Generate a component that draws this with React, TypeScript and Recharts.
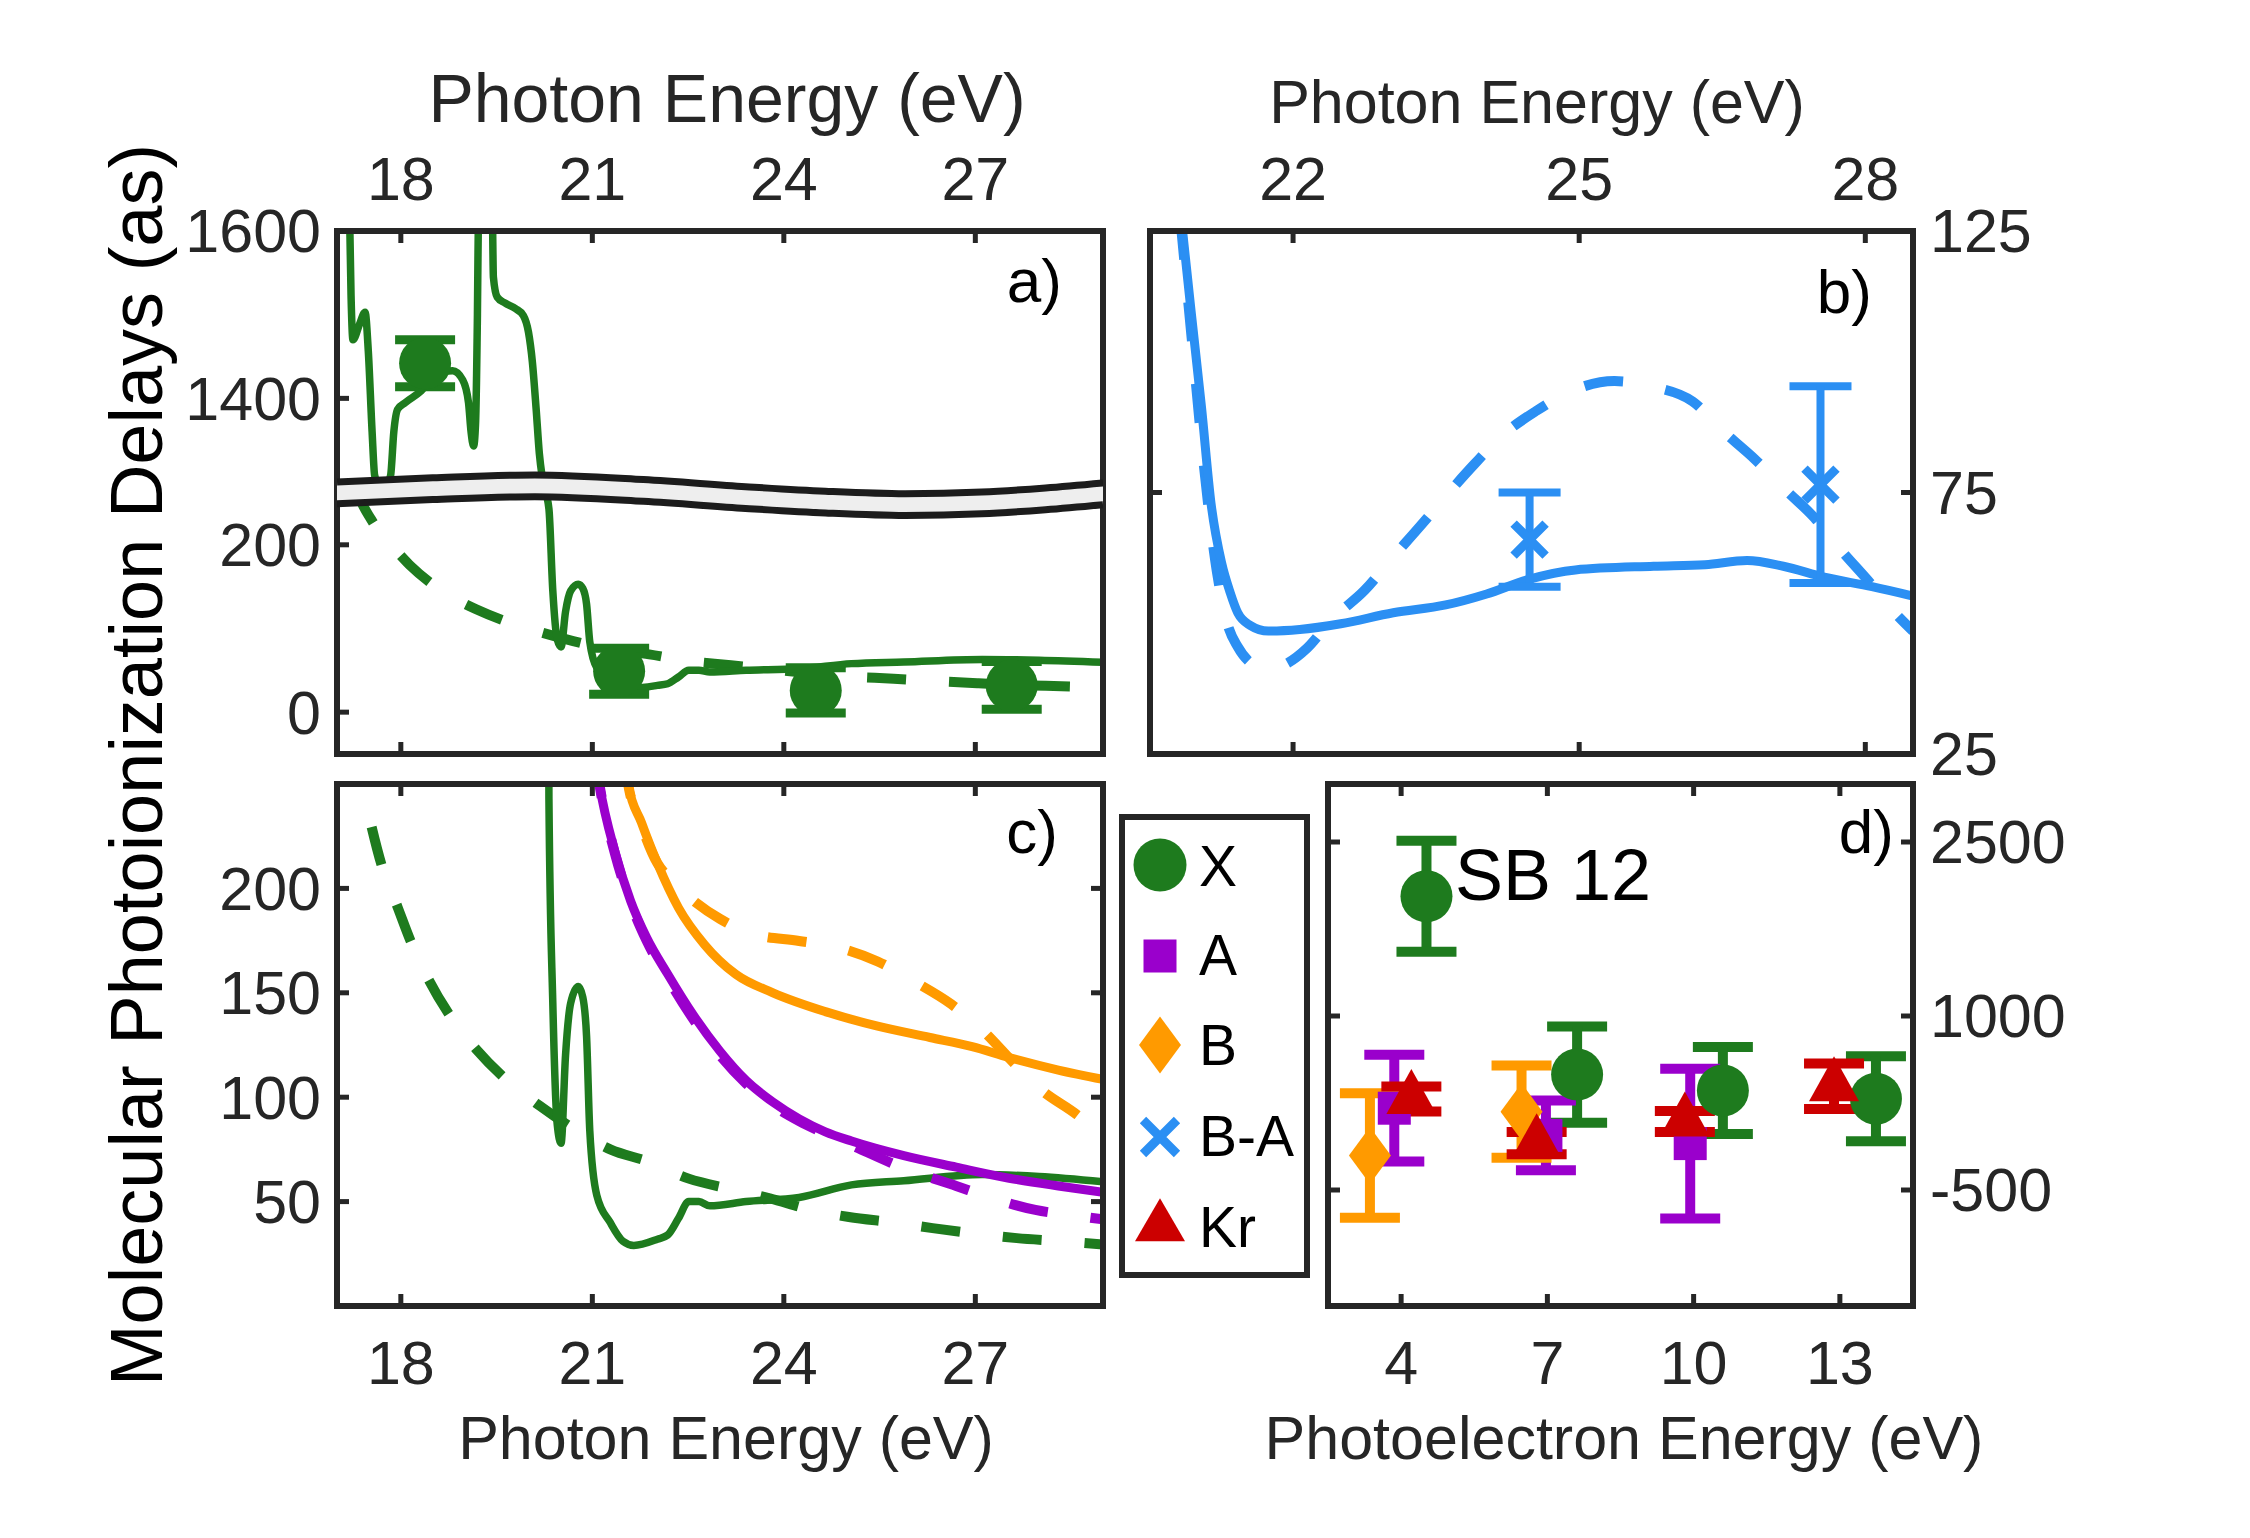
import React from "react";
import { Area, ComposedChart, ErrorBar, Line, Scatter, XAxis, YAxis } from "recharts";

const W = 2250;
const H = 1538;
const FONT = '"Liberation Sans", Arial, Helvetica, sans-serif';
const INK = "#262626";
const GREEN = "#1e7b1e";
const BLUE = "#2b8ff3";
const PURPLE = "#9a00cc";
const ORANGE = "#ff9a00";
const RED = "#cc0000";
const TICK_FS = 61;
const TICK_LEN = 12;
const DASH = "39 43";
const DASH_W = 10;

// ticks
const eTicks = [18, 21, 24, 27];
const aYTicks = [0, 200, 1400, 1600];
const bXTicks = [22, 25, 28];
const bYTicks = [25, 75, 125];
const cYTicks = [50, 100, 150, 200];
const dXTicks = [4, 7, 10, 13];
const dYTicks = [-500, 1000, 2500];

// X state theory, solid (photon energy eV, delay as)
const xThE = [17.19, 17.22, 17.25, 17.35, 17.44, 17.49, 17.55, 17.59, 17.72, 17.84, 17.89, 17.95, 18.07, 18.32, 18.52, 18.81, 18.97, 19.06, 19.1, 19.14, 19.17, 19.2, 19.22, 19.32, 19.43, 19.45, 19.51, 19.63, 19.8, 19.92, 20.0, 20.06, 20.12, 20.17, 20.22, 20.32, 20.38, 20.45, 20.51, 20.58, 20.66, 20.78, 20.85, 20.91, 20.96, 21.07, 21.28, 21.48, 21.65, 22.02, 22.18, 22.35, 22.51, 22.67, 22.84, 23.41, 24.24, 25.06, 25.88, 27.11, 28.0, 29.0];
const xThD = [1650, 1523, 1470, 1488, 1503, 1457, 1360, 1308, 1286, 1308, 1360, 1387, 1395, 1409, 1426, 1433, 1422, 1395, 1360, 1343, 1369, 1501, 1650, 1800, 1650, 1545, 1521, 1514, 1507, 1499, 1479, 1444, 1387, 1334, 1303, 243, 146, 87, 78, 120, 145, 153, 148, 129, 84, 53, 40, 31, 29, 32, 34, 42, 50, 50, 48, 50, 52, 58, 60, 63, 62, 59.5];
// X state theory, dashed
const xTh2E = [17.3, 17.39, 17.53, 17.7, 17.95, 18.15, 18.44, 18.77, 19.18, 19.63, 20.17, 20.7, 21.28, 21.89, 22.51, 23.17, 23.78, 24.44, 25.02, 25.72, 26.33, 27.03, 27.65, 28.35, 29.0];
const xTh2D = [268, 250, 231, 211, 191, 175, 156, 139, 123, 109, 96, 85, 75, 69, 61, 56, 51.5, 46, 42.6, 40, 37.3, 34.6, 32.5, 31, 29.5];
// A state theory
const aThE = [21.05, 21.11, 21.36, 21.6, 21.85, 22.18, 22.59, 23.0, 23.41, 23.83, 24.24, 24.65, 25.06, 25.88, 26.7, 27.53, 28.3, 29.0];
const aThD = [262, 250, 217, 194, 176.5, 159, 139, 122, 108, 97.6, 89.6, 83.4, 79, 72, 66.5, 61.2, 57.5, 54.5];
const aTh2E = [21.05, 21.11, 21.36, 21.6, 21.85, 22.18, 22.59, 23.0, 23.41, 23.83, 24.24, 24.65, 25.06, 25.88, 26.7, 27.28, 27.94, 28.5, 29.0];
const aTh2D = [262, 250, 216, 193, 175, 157, 137, 120, 106.5, 96, 88.5, 82.5, 77, 66, 57.5, 51.5, 46, 43.5, 41.5];
// B state theory
const bThE = [21.5, 21.56, 21.77, 22.02, 22.35, 22.76, 23.25, 23.83, 24.65, 25.47, 26.29, 26.95, 27.53, 28.3, 29.0];
const bThD = [262, 250, 231.5, 212, 190.7, 173, 158.8, 150, 141, 134, 128.6, 124.2, 119, 113, 108.5];
const bTh2E = [21.5, 21.56, 21.77, 22.02, 22.2, 22.51, 23.0, 23.5, 24.24, 24.81, 25.47, 26.05, 26.62, 27.11, 27.61, 28.02, 28.6, 29.0];
const bTh2D = [262, 250, 230, 212, 205, 196, 185.4, 178.3, 174.8, 172, 165, 155.3, 144.6, 132.2, 116.2, 103.8, 91.4, 81];
// B-A theory (panel b)
const baThE = [20.83, 20.93, 21.04, 21.14, 21.25, 21.34, 21.42, 21.55, 21.74, 22.07, 22.5, 23.05, 23.6, 24.03, 24.47, 24.96, 25.78, 26.32, 26.76, 27.14, 27.57, 28.07, 28.5];
const baThD = [127, 109.8, 91.3, 72.9, 61.6, 55.9, 52, 49.6, 48.5, 48.8, 49.9, 52, 53.5, 55.6, 58.4, 60.2, 60.9, 61.2, 62, 60.9, 58.8, 57, 55.2];
const baTh2E = [20.82, 20.95, 21.06, 21.2, 21.31, 21.42, 21.55, 21.72, 21.9, 22.15, 22.4, 22.75, 23.05, 23.32, 23.62, 23.9, 24.2, 24.55, 24.93, 25.37, 25.78, 26.19, 26.51, 26.84, 27.17, 27.47, 27.74, 28.07, 28.31, 28.5];
const baTh2D = [127, 102, 81, 60, 50, 45.5, 42.5, 41.2, 42, 45.3, 50.6, 56.3, 62.7, 68.3, 74.7, 80.4, 86, 90.6, 94.5, 96.3, 95.2, 92.4, 86.7, 81.4, 75.4, 70.1, 64.1, 57.3, 52, 48.5];

// measurements
const aMeasE = [18.38, 21.42, 24.5, 27.57];
const aMeasD = [1442, 49, 26, 32];
const aMeasErr = [28, 27.5, 27, 28.5];
const bMeasE = [24.48, 27.53];
const bMeasD = [66, 76.5];
const bMeasErr = [9, 18.8];

// panel d, SB 12 (photoelectron energy eV)
const dXE = [4.52, 7.61, 10.6, 13.74];
const dXD = [2032, 495, 358, 287];
const dXErr = [479, 415, 375, 367];
const dAE = [3.86, 6.97, 9.93];
const dAD = [205, -29, -100];
const dAErr = [460, 300, 645];
const dBE = [3.36, 6.47];
const dBD = [-202, 175];
const dBErr = [537, 398];
const dKrE = [4.21, 6.78, 9.82, 12.88];
const dKrD = [284, -96, 91, 394];
const dKrErr = [108, 96, 91, 196];

// axis break band in panel a (plotted units)
const bandE = [17, 18.5, 20.1, 21.8, 23.4, 24.65, 25.9, 27.1, 28.1, 29];
const bandTop = [275, 280, 283.5, 278, 269.5, 264, 261, 263, 268, 274];
const bandBot = [249, 254, 257.5, 252, 243.5, 238, 235, 237, 242, 248];

// broken axis for panel a: values above the break are shifted down
const SHIFT = 1025;
const brk = (v: number) => (v > 800 ? v - SHIFT : v);
const unbrk = (v: number) => (v > 300 ? v + SHIFT : v);

const pts = (xs: number[], ys: number[], f: (v: number) => number = (v) => v) =>
  xs.map((x, i) => ({ x, y: f(ys[i]) }));
const errPts = (xs: number[], ys: number[], es: number[], f: (v: number) => number = (v) => v) =>
  xs.map((x, i) => ({ x, y: f(ys[i]), e: es[i] }));

type Side = "top" | "bottom" | "left" | "right";
const makeTick =
  (side: Side, gap: number, show = true, fmt: (v: number) => string = (v) => String(v)) =>
  (props: any) => {
    const { x, y, payload } = props;
    const d = { top: [0, TICK_LEN], bottom: [0, -TICK_LEN], left: [TICK_LEN, 0], right: [-TICK_LEN, 0] }[side];
    let tx = x;
    let ty = y;
    let anchor: "middle" | "end" | "start" = "middle";
    if (side === "top") ty = y - gap;
    if (side === "bottom") ty = y + gap;
    if (side === "left") {
      tx = x - gap;
      ty = y + TICK_FS * 0.35;
      anchor = "end";
    }
    if (side === "right") {
      tx = x + gap;
      ty = y + TICK_FS * 0.35;
      anchor = "start";
    }
    return (
      <g>
        <line x1={x} y1={y} x2={x + d[0]} y2={y + d[1]} stroke={INK} strokeWidth={5} />
        {show && (
          <text x={tx} y={ty} textAnchor={anchor} fontSize={TICK_FS} fontFamily={FONT} fill={INK}>
            {fmt(payload.value)}
          </text>
        )}
      </g>
    );
  };
const noTick = () => <g />;

// every axis is 1px deep so recharts still draws it
const ax = {
  type: "number" as const,
  allowDataOverflow: true,
  tickSize: 0,
  tickMargin: 0,
  interval: 0 as const,
  tickLine: false,
  axisLine: { stroke: INK, strokeWidth: 6, strokeLinecap: "square" as const },
};

// markers
const circle = (fill: string, r = 26) => (p: any) => <circle cx={p.cx} cy={p.cy} r={r} fill={fill} />;
const square = (fill: string, s = 33) => (p: any) => (
  <rect x={p.cx - s / 2} y={p.cy - s / 2} width={s} height={s} fill={fill} />
);
const diamond = (fill: string, w = 42, h = 57) => (p: any) => (
  <polygon
    points={`${p.cx},${p.cy - h / 2} ${p.cx + w / 2},${p.cy} ${p.cx},${p.cy + h / 2} ${p.cx - w / 2},${p.cy}`}
    fill={fill}
  />
);
const triangle = (fill: string, w = 50, h = 45) => (p: any) => (
  <polygon
    points={`${p.cx},${p.cy - (h * 2) / 3} ${p.cx + w / 2},${p.cy + h / 3} ${p.cx - w / 2},${p.cy + h / 3}`}
    fill={fill}
  />
);
const cross = (stroke: string, s = 16, sw = 8) => (p: any) => (
  <path
    d={`M${p.cx - s},${p.cy - s}L${p.cx + s},${p.cy + s}M${p.cx - s},${p.cy + s}L${p.cx + s},${p.cy - s}`}
    stroke={stroke}
    strokeWidth={sw}
    fill="none"
  />
);

function Panel({ rect, children }: { rect: number[]; children: React.ReactNode }) {
  const [L, T, R, B] = rect;
  return (
    <div style={{ position: "absolute", left: 0, top: 0 }}>
      <ComposedChart width={W} height={H} margin={{ left: L - 1, top: T - 1, right: W - R - 1, bottom: H - B - 1 }}>
        {children}
      </ComposedChart>
    </div>
  );
}

function PanelA() {
  const band = bandE.map((x, i) => ({ x, band: [bandBot[i], bandTop[i]], lo: bandBot[i], hi: bandTop[i] }));
  return (
    <Panel rect={[337, 231, 1103, 754]}>
      <XAxis {...ax} dataKey="x" orientation="top" height={1} domain={[17, 29]} ticks={eTicks} tick={makeTick("top", 31)} />
      <XAxis {...ax} xAxisId="m" dataKey="x" orientation="bottom" height={1} domain={[17, 29]} ticks={eTicks} tick={makeTick("bottom", 0, false)} />
      <YAxis {...ax} orientation="left" width={1} domain={[-50, 575]} ticks={aYTicks.map(brk)} tick={makeTick("left", 16, true, (v) => String(unbrk(v)))} />
      <YAxis {...ax} yAxisId="m" orientation="right" width={1} domain={[-50, 575]} ticks={[0]} tick={noTick} />
      <Line data={pts(xTh2E, xTh2D, brk)} dataKey="y" type="monotone" stroke={GREEN} strokeWidth={DASH_W} strokeDasharray={DASH} dot={false} isAnimationActive={false} />
      <Line data={pts(xThE, xThD, brk)} dataKey="y" type="monotone" stroke={GREEN} strokeWidth={7.5} dot={false} isAnimationActive={false} />
      <Scatter data={errPts(aMeasE, aMeasD, aMeasErr, brk)} dataKey="y" shape={circle(GREEN)} isAnimationActive={false}>
        <ErrorBar dataKey="e" direction="y" width={30} strokeWidth={9} stroke={GREEN} />
      </Scatter>
      <Area data={band} dataKey="band" type="monotone" fill="#eeeeee" fillOpacity={1} stroke="none" isAnimationActive={false} zIndex={700} />
      <Line data={band} dataKey="hi" type="monotone" stroke="#1c1c1c" strokeWidth={7} dot={false} isAnimationActive={false} zIndex={710} />
      <Line data={band} dataKey="lo" type="monotone" stroke="#1c1c1c" strokeWidth={7} dot={false} isAnimationActive={false} zIndex={710} />
    </Panel>
  );
}

function PanelB() {
  return (
    <Panel rect={[1150, 231, 1913, 754]}>
      <XAxis {...ax} dataKey="x" orientation="top" height={1} domain={[20.5, 28.5]} ticks={bXTicks} tick={makeTick("top", 31)} />
      <XAxis {...ax} xAxisId="m" dataKey="x" orientation="bottom" height={1} domain={[20.5, 28.5]} ticks={bXTicks} tick={makeTick("bottom", 0, false)} />
      <YAxis {...ax} orientation="right" width={1} domain={[25, 125]} ticks={bYTicks} tick={makeTick("right", 17)} />
      <YAxis {...ax} yAxisId="m" orientation="left" width={1} domain={[25, 125]} ticks={bYTicks} tick={makeTick("left", 0, false)} />
      <Line data={pts(baTh2E, baTh2D)} dataKey="y" type="monotone" stroke={BLUE} strokeWidth={DASH_W} strokeDasharray={DASH} dot={false} isAnimationActive={false} />
      <Line data={pts(baThE, baThD)} dataKey="y" type="monotone" stroke={BLUE} strokeWidth={9} dot={false} isAnimationActive={false} />
      <Scatter data={errPts(bMeasE, bMeasD, bMeasErr)} dataKey="y" shape={cross(BLUE, 16, 9)} isAnimationActive={false}>
        <ErrorBar dataKey="e" direction="y" width={31} strokeWidth={8} stroke={BLUE} />
      </Scatter>
    </Panel>
  );
}

function PanelC() {
  return (
    <Panel rect={[337, 784, 1103, 1306]}>
      <XAxis {...ax} dataKey="x" orientation="bottom" height={1} domain={[17, 29]} ticks={eTicks} tick={makeTick("bottom", 78)} />
      <XAxis {...ax} xAxisId="m" dataKey="x" orientation="top" height={1} domain={[17, 29]} ticks={eTicks} tick={makeTick("top", 0, false)} />
      <YAxis {...ax} orientation="left" width={1} domain={[0, 250]} ticks={cYTicks} tick={makeTick("left", 16)} />
      <YAxis {...ax} yAxisId="m" orientation="right" width={1} domain={[0, 250]} ticks={cYTicks} tick={makeTick("right", 0, false)} />
      <Line data={pts(xTh2E, xTh2D)} dataKey="y" type="monotone" stroke={GREEN} strokeWidth={DASH_W} strokeDasharray={DASH} dot={false} isAnimationActive={false} />
      <Line data={pts(xThE, xThD)} dataKey="y" type="monotone" stroke={GREEN} strokeWidth={7.5} dot={false} isAnimationActive={false} />
      <Line data={pts(aTh2E, aTh2D)} dataKey="y" type="monotone" stroke={PURPLE} strokeWidth={DASH_W} strokeDasharray={DASH} dot={false} isAnimationActive={false} />
      <Line data={pts(aThE, aThD)} dataKey="y" type="monotone" stroke={PURPLE} strokeWidth={9} dot={false} isAnimationActive={false} />
      <Line data={pts(bTh2E, bTh2D)} dataKey="y" type="monotone" stroke={ORANGE} strokeWidth={DASH_W} strokeDasharray={DASH} dot={false} isAnimationActive={false} />
      <Line data={pts(bThE, bThD)} dataKey="y" type="monotone" stroke={ORANGE} strokeWidth={9} dot={false} isAnimationActive={false} />
    </Panel>
  );
}

function PanelD() {
  return (
    <Panel rect={[1328, 784, 1913, 1306]}>
      <XAxis {...ax} dataKey="x" orientation="bottom" height={1} domain={[2.5, 14.5]} ticks={dXTicks} tick={makeTick("bottom", 78)} />
      <XAxis {...ax} xAxisId="m" dataKey="x" orientation="top" height={1} domain={[2.5, 14.5]} ticks={dXTicks} tick={makeTick("top", 0, false)} />
      <YAxis {...ax} orientation="right" width={1} domain={[-1500, 3000]} ticks={dYTicks} tick={makeTick("right", 17)} />
      <YAxis {...ax} yAxisId="m" orientation="left" width={1} domain={[-1500, 3000]} ticks={dYTicks} tick={makeTick("left", 0, false)} />
      <Scatter data={errPts(dXE, dXD, dXErr)} dataKey="y" shape={circle(GREEN)} isAnimationActive={false}>
        <ErrorBar dataKey="e" direction="y" width={30} strokeWidth={10} stroke={GREEN} />
      </Scatter>
      <Scatter data={errPts(dAE, dAD, dAErr)} dataKey="y" shape={square(PURPLE)} isAnimationActive={false}>
        <ErrorBar dataKey="e" direction="y" width={30} strokeWidth={10} stroke={PURPLE} />
      </Scatter>
      <Scatter data={errPts(dBE, dBD, dBErr)} dataKey="y" shape={diamond(ORANGE)} isAnimationActive={false}>
        <ErrorBar dataKey="e" direction="y" width={30} strokeWidth={10} stroke={ORANGE} />
      </Scatter>
      <Scatter data={errPts(dKrE, dKrD, dKrErr)} dataKey="y" shape={triangle(RED)} isAnimationActive={false}>
        <ErrorBar dataKey="e" direction="y" width={30} strokeWidth={10} stroke={RED} />
      </Scatter>
    </Panel>
  );
}

const legendItems = [
  { name: "X", shape: circle(GREEN, 26.5), cy: 865, base: 886 },
  { name: "A", shape: square(PURPLE), cy: 956, base: 975 },
  { name: "B", shape: diamond(ORANGE), cy: 1045, base: 1065 },
  { name: "B-A", shape: cross(BLUE, 17, 9), cy: 1137, base: 1156 },
  { name: "Kr", shape: triangle(RED, 50, 43), cy: 1227, base: 1247 },
];

function Overlay() {
  return (
    <svg width={W} height={H} style={{ position: "absolute", left: 0, top: 0 }} fontFamily={FONT}>
      <text x={727} y={122} textAnchor="middle" fontSize={68} fill={INK}>Photon Energy (eV)</text>
      <text x={1537} y={123} textAnchor="middle" fontSize={61} fill={INK}>Photon Energy (eV)</text>
      <text x={726} y={1459} textAnchor="middle" fontSize={61} fill={INK}>Photon Energy (eV)</text>
      <text x={1624} y={1459} textAnchor="middle" fontSize={61} fill={INK}>Photoelectron Energy (eV)</text>
      <text transform="translate(162,765) rotate(-90)" textAnchor="middle" fontSize={74} fill="#000">
        Molecular Photoionization Delays (as)
      </text>
      <text x={1062} y={302} textAnchor="end" fontSize={62} fill="#000">a)</text>
      <text x={1872} y={313} textAnchor="end" fontSize={62} fill="#000">b)</text>
      <text x={1058} y={853} textAnchor="end" fontSize={62} fill="#000">c)</text>
      <text x={1894} y={853} textAnchor="end" fontSize={62} fill="#000">d)</text>
      <text x={1455} y={900} fontSize={72} fill="#000">SB 12</text>
      <rect x={1122} y={817} width={185} height={458} fill="#fff" stroke={INK} strokeWidth={6} />
      {legendItems.map((it) => (
        <g key={it.name}>
          {it.shape({ cx: 1160, cy: it.cy })}
          <text x={1199} y={it.base} fontSize={57} fill="#000">{it.name}</text>
        </g>
      ))}
    </svg>
  );
}

export default function App() {
  return (
    <div style={{ position: "absolute", left: 0, top: 0, width: W, height: H, background: "#fff" }}>
      <PanelA />
      <PanelB />
      <PanelC />
      <PanelD />
      <Overlay />
    </div>
  );
}
